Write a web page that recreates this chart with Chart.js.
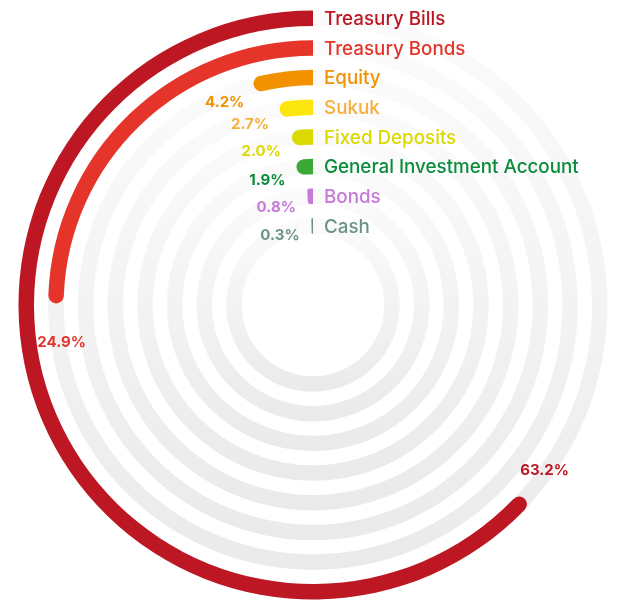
<!DOCTYPE html>
<html>
<head>
<meta charset="utf-8">
<script src="https://cdn.jsdelivr.net/npm/chart.js@4/dist/chart.umd.min.js"></script>
<style>
  html, body { margin: 0; padding: 0; background: #ffffff; }
  #wrap { width: 617px; height: 601px; }
</style>
</head>
<body>
<div id="wrap"><canvas id="chart" width="617" height="601"></canvas></div>
<script>
// Portfolio allocation, one ring per asset class (percent of total)
const categories = [
  'Treasury Bills', 'Treasury Bonds', 'Equity', 'Sukuk',
  'Fixed Deposits', 'General Investment Account', 'Bonds', 'Cash'
];
const shares = [63.2, 24.9, 4.2, 2.7, 2.0, 1.9, 0.8, 0.3];
const barColors = [
  '#bd1723', '#e5352b', '#f29200', '#fbe70d',
  '#dcd900', '#3aa935', '#c779d7', '#6a9383'
];
const textColors = [
  '#bd1723', '#e5352b', '#f29200', '#f6ae3c',
  '#dcd900', '#0a8c3b', '#c779d7', '#6a9383'
];
const scaleMax = 100;

const RING_WEIGHT = 15.5;
const GAP_WEIGHT = 14.2;
const FONT = 'Inter, "Noto Sans", sans-serif';

// rings (outermost first) separated by transparent spacer rings
const datasets = [];
categories.forEach((name, i) => {
  datasets.push({
    label: name,
    data: [scaleMax - shares[i], shares[i]],
    backgroundColor: ['rgba(0,0,0,0)', barColors[i]],
    borderWidth: 0,
    hoverBorderWidth: 0,
    hoverOffset: 0,
    borderRadius: (ctx) => ctx.dataIndex === 1
      ? { outerStart: 8, innerStart: 8, outerEnd: 0, innerEnd: 0 }
      : 0,
    weight: RING_WEIGHT,
    isRing: true,
    ringIndex: i
  });
  if (i < categories.length - 1) {
    datasets.push({
      label: '',
      data: [1],
      backgroundColor: 'rgba(0,0,0,0)',
      borderWidth: 0,
      hoverBorderWidth: 0,
      hoverOffset: 0,
      weight: GAP_WEIGHT,
      isRing: false
    });
  }
});

// light grey full-circle track behind every ring
const trackPlugin = {
  id: 'tracks',
  beforeDatasetsDraw(chart) {
    const ctx = chart.ctx;
    chart.data.datasets.forEach((ds, di) => {
      if (!ds.isRing) return;
      const el = chart.getDatasetMeta(di).data[1];
      if (!el) return;
      const grad = ctx.createLinearGradient(0, el.y - el.outerRadius, 0, el.y + el.outerRadius);
      grad.addColorStop(0, '#fbfbfb');
      grad.addColorStop(0.5, '#f3f3f3');
      grad.addColorStop(1, '#eaeaea');
      ctx.save();
      ctx.beginPath();
      ctx.arc(el.x, el.y, el.outerRadius, 0, Math.PI * 2);
      ctx.arc(el.x, el.y, el.innerRadius, Math.PI * 2, 0, true);
      ctx.closePath();
      ctx.fillStyle = grad;
      ctx.fill();
      ctx.restore();
    });
  }
};

// category names beside the ring tops and value labels at the ring ends
const labelPlugin = {
  id: 'ringLabels',
  afterDatasetsDraw(chart) {
    const ctx = chart.ctx;
    ctx.save();
    chart.data.datasets.forEach((ds, di) => {
      if (!ds.isRing) return;
      const i = ds.ringIndex;
      const el = chart.getDatasetMeta(di).data[1];
      const rc = (el.innerRadius + el.outerRadius) / 2;

      ctx.font = '500 18.8px ' + FONT;
      ctx.fillStyle = textColors[i];
      ctx.textAlign = 'left';
      ctx.textBaseline = 'middle';
      ctx.fillText(categories[i], el.x + 11, el.y - rc + 1);

      // value label just past the rounded end of the bar
      const txt = shares[i].toFixed(1) + '%';
      ctx.font = '700 15px ' + FONT;
      const w = ctx.measureText(txt).width;
      const a = el.startAngle;
      const rl = rc - 6;
      const sx = el.x + rl * Math.cos(a);
      const sy = el.y + rl * Math.sin(a);
      const tx = Math.sin(a), ty = -Math.cos(a);
      const d = w / 2 + 12;
      ctx.textAlign = 'center';
      ctx.fillText(txt, sx + tx * d, sy + ty * d + 3);
    });
    ctx.restore();
  }
};

new Chart(document.getElementById('chart'), {
  type: 'doughnut',
  data: { labels: ['remaining', 'share'], datasets },
  options: {
    responsive: false,
    animation: false,
    devicePixelRatio: 1,
    cutout: 71.3,
    rotation: 0,
    circumference: 360,
    layout: { padding: { top: 10.5, bottom: 1.5, left: 13, right: 4 } },
    plugins: {
      legend: { display: false },
      tooltip: { enabled: false }
    },
    events: []
  },
  plugins: [trackPlugin, labelPlugin]
});
</script>
</body>
</html>
